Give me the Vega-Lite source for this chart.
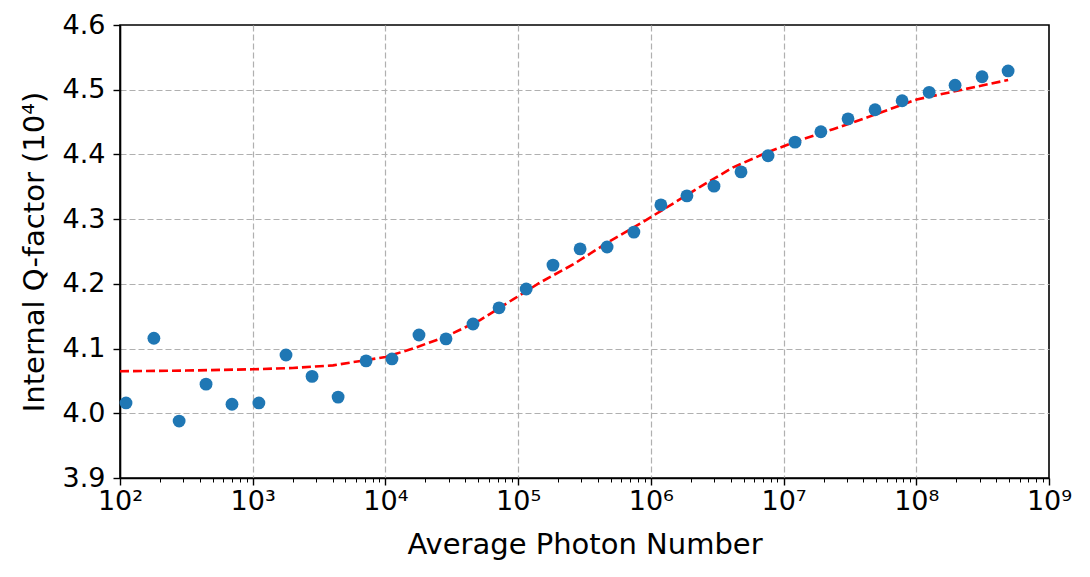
{
  "$schema": "https://vega.github.io/schema/vega-lite/v6.json",
  "width": 929,
  "height": 453,
  "autosize": {"type": "none"},
  "padding": {"left": 120, "top": 25, "right": 41, "bottom": 99},
  "background": "white",
  "config": {
    "view": {"stroke": "#000000", "strokeWidth": 1.6},
    "axis": {
      "labelFont": "DejaVu Sans",
      "titleFont": "DejaVu Sans",
      "labelFontSize": 27,
      "titleFontSize": 29,
      "titleFontWeight": "normal",
      "labelColor": "#000000",
      "titleColor": "#000000",
      "tickColor": "#000000",
      "domainColor": "#000000",
      "domainWidth": 1.6,
      "tickWidth": 1.4,
      "tickSize": 7,
      "labelPadding": 4,
      "gridColor": "#b0b0b0",
      "gridDash": [6, 3],
      "gridWidth": 1.2
    }
  },
  "datasets": {
    "measured": [
      {"n": 111, "q": 4.016},
      {"n": 180, "q": 4.116},
      {"n": 279, "q": 3.988},
      {"n": 445, "q": 4.045},
      {"n": 698, "q": 4.014},
      {"n": 1113, "q": 4.016},
      {"n": 1782, "q": 4.090},
      {"n": 2800, "q": 4.057},
      {"n": 4400, "q": 4.025},
      {"n": 7150, "q": 4.081},
      {"n": 11200, "q": 4.084},
      {"n": 17900, "q": 4.121},
      {"n": 28600, "q": 4.115},
      {"n": 45700, "q": 4.138},
      {"n": 71800, "q": 4.163},
      {"n": 115000, "q": 4.192},
      {"n": 183000, "q": 4.229},
      {"n": 293000, "q": 4.254},
      {"n": 468000, "q": 4.257},
      {"n": 745000, "q": 4.280},
      {"n": 1190000, "q": 4.322},
      {"n": 1870000, "q": 4.336},
      {"n": 2990000, "q": 4.351},
      {"n": 4780000, "q": 4.373},
      {"n": 7640000, "q": 4.398},
      {"n": 12200000, "q": 4.419},
      {"n": 19100000, "q": 4.435},
      {"n": 30600000, "q": 4.455},
      {"n": 48900000, "q": 4.469},
      {"n": 78200000, "q": 4.483},
      {"n": 125000000, "q": 4.496},
      {"n": 196000000, "q": 4.507},
      {"n": 313000000, "q": 4.520},
      {"n": 492000000, "q": 4.529}
    ],
    "fit": [
      {"n": 100, "q": 4.065},
      {"n": 316, "q": 4.066},
      {"n": 1000, "q": 4.068},
      {"n": 2000, "q": 4.070},
      {"n": 4027, "q": 4.074},
      {"n": 10000, "q": 4.087},
      {"n": 16140, "q": 4.100},
      {"n": 28960, "q": 4.119},
      {"n": 51650, "q": 4.144},
      {"n": 91600, "q": 4.176},
      {"n": 146300, "q": 4.202},
      {"n": 259300, "q": 4.230},
      {"n": 465500, "q": 4.263},
      {"n": 829000, "q": 4.293},
      {"n": 1469000, "q": 4.324},
      {"n": 2350000, "q": 4.350},
      {"n": 4170000, "q": 4.380},
      {"n": 7470000, "q": 4.403},
      {"n": 13300000, "q": 4.422},
      {"n": 23600000, "q": 4.439},
      {"n": 42400000, "q": 4.457},
      {"n": 101000000, "q": 4.485},
      {"n": 189000000, "q": 4.497},
      {"n": 492000000, "q": 4.515}
    ]
  },
  "layer": [
    {
      "data": {"name": "fit"},
      "mark": {"type": "line", "color": "#ff0000", "strokeWidth": 2.6, "strokeDash": [9, 4], "clip": true},
      "encoding": {
        "x": {
          "field": "n", "type": "quantitative",
          "scale": {"type": "log", "domain": [100, 1000000000], "nice": false},
          "axis": {
            "title": "Average Photon Number",
            "values": [100,200,300,400,500,600,700,800,900,1000,2000,3000,4000,5000,6000,7000,8000,9000,10000,20000,30000,40000,50000,60000,70000,80000,90000,100000,200000,300000,400000,500000,600000,700000,800000,900000,1000000,2000000,3000000,4000000,5000000,6000000,7000000,8000000,9000000,10000000,20000000,30000000,40000000,50000000,60000000,70000000,80000000,90000000,100000000,200000000,300000000,400000000,500000000,600000000,700000000,800000000,900000000,1000000000],
            "labelExpr": "abs(log(datum.value)/LN10 - round(log(datum.value)/LN10)) < 0.001 ? '10' + ['⁰','¹','²','³','⁴','⁵','⁶','⁷','⁸','⁹'][round(log(datum.value)/LN10)] : ''",
            "labelFlush": false,
            "labelOverlap": false,
            "labelBound": false,
            "labelPadding": 3,
            "tickSize": {"condition": {"test": "abs(log(datum.value)/LN10 - round(log(datum.value)/LN10)) < 0.001", "value": 7}, "value": 4},
            "tickWidth": {"condition": {"test": "abs(log(datum.value)/LN10 - round(log(datum.value)/LN10)) < 0.001", "value": 1.4}, "value": 1},
            "gridOpacity": {"condition": {"test": "abs(log(datum.value)/LN10 - round(log(datum.value)/LN10)) < 0.001 && datum.value > 150 && datum.value < 500000000", "value": 1}, "value": 0},
            "titlePadding": 16,
            "grid": true
          }
        },
        "y": {
          "field": "q", "type": "quantitative",
          "scale": {"domain": [3.9, 4.6], "nice": false, "zero": false},
          "axis": {
            "title": "Internal Q-factor (10⁴)",
            "values": [3.9, 4.0, 4.1, 4.2, 4.3, 4.4, 4.5, 4.6],
            "format": ".1f",
            "labelPadding": 8,
            "gridOpacity": {"condition": {"test": "datum.value > 3.95 && datum.value < 4.55", "value": 1}, "value": 0},
            "titlePadding": 13,
            "grid": true
          }
        }
      }
    },
    {
      "data": {"name": "measured"},
      "mark": {"type": "circle", "color": "#1f77b4", "opacity": 1, "size": 165},
      "encoding": {
        "x": {"field": "n", "type": "quantitative"},
        "y": {"field": "q", "type": "quantitative"}
      }
    }
  ]
}
